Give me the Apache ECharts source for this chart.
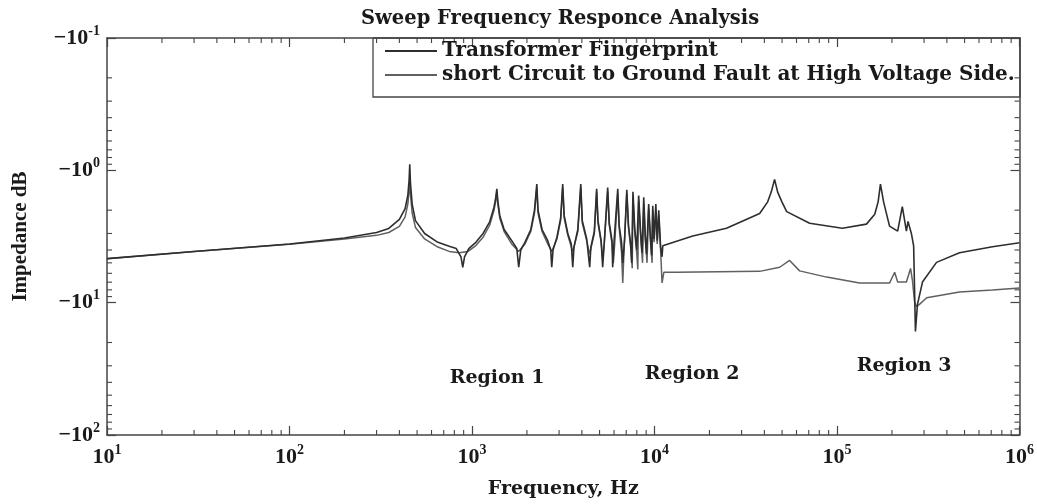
<!DOCTYPE html>
<html><head><meta charset="utf-8">
<script src="https://cdn.jsdelivr.net/npm/echarts@6/dist/echarts.min.js"></script>
<style>html,body{margin:0;padding:0;background:#fff}#c{width:1037px;height:504px}</style>
</head><body><div id="c"></div>
<script>
// ---- data (frequency Hz, |impedance| magnitude; axis shows -10^k) ----
const seriesNames = ['Transformer Fingerprint', 'short Circuit to Ground Fault at High Voltage Side.'];
const xTickExp = [1, 2, 3, 4, 5, 6];
const yTickExp = [-1, 0, 1, 2];
const regionLabels = ['Region 1', 'Region 2', 'Region 3'];

const fingerprint = [
  [10,4.65],[30,4.1],[100,3.6],[200,3.25],[300,2.95],[350,2.75],[400,2.35],[430,1.95],[445,1.55],[452,1.2],[456,0.9],[460,1.25],[470,1.8],[490,2.4],[550,3.0],[650,3.5],[750,3.75],[820,3.9],[870,4.5],[890,5.4],[910,4.5],[960,3.9],
  [1050,3.5],[1150,3.0],[1250,2.45],[1320,1.9],[1350,1.6],[1368,1.38],[1385,1.7],[1420,2.2],[1500,2.8],[1650,3.4],[1760,3.9],[1803,5.4],[1850,4.0],[1950,3.5],[2100,2.8],[2200,2.0],[2265,1.27],[2300,2.0],[2420,2.8],[2600,3.4],[2700,4.0],[2735,5.4],[2780,4.0],[2920,3.2],[3060,2.3],[3140,1.27],[3200,2.2],[3350,3.0],[3500,3.6],[3565,5.4],[3620,3.8],[3800,2.8],[3945,1.27],[4020,2.4],[4250,3.3],[4415,5.4],[4480,3.8],[4680,2.9],[4820,1.38],[4900,2.4],[5100,3.4],[5200,5.4],[5300,3.6],[5540,1.35],[5650,2.5],[5850,3.4],[5900,5.4],[6000,3.5],[6290,1.38],[6400,2.6],[6600,3.5],[6700,5.0],[6850,3.4],[7050,1.4],[7200,2.6],[7400,3.6],[7500,5.0],[7620,1.45],[7800,2.8],[8000,4.0],[8190,1.55],[8400,3.0],[8550,4.2],[8730,1.6],[8900,3.1],[9050,4.3],[9290,1.8],[9500,3.2],[9650,4.4],[9780,1.85],[9950,3.3],[10170,1.8],[10350,3.4],[10550,2.0],[10800,3.8],[11000,4.5],[11100,3.72],
  [16200,3.13],[24800,2.74],[37700,2.12],[41700,1.73],[43600,1.46],[45500,1.17],[47300,1.46],[49900,1.73],[53000,2.05],[70800,2.51],[107000,2.74],[145000,2.55],[161000,2.15],[168000,1.73],[173000,1.27],[180000,1.73],[194000,2.64],[215000,2.88],[228000,1.88],[240000,2.88],[245000,2.43],[256000,3.03],[263000,3.72],[269000,16.5],[276000,10.3],[294000,6.99],[351000,4.96],[469000,4.19],[711000,3.78],[1000000,3.53]
];

const fault = [
  [10,4.65],[30,4.1],[100,3.62],[200,3.3],[300,3.1],[350,2.95],[400,2.65],[430,2.25],[445,1.8],[452,1.45],[456,1.2],[460,1.5],[470,2.1],[490,2.7],[550,3.3],[650,3.8],[750,4.1],[850,4.2],[950,4.1],
  [1050,3.7],[1150,3.2],[1250,2.6],[1320,2.0],[1350,1.7],[1368,1.45],[1385,1.8],[1420,2.3],[1500,2.9],[1650,3.6],[1800,4.1],[1950,3.6],[2100,2.9],[2200,2.1],[2265,1.35],[2300,2.1],[2420,2.9],[2600,3.6],[2735,4.1],[2920,3.3],[3060,2.4],[3140,1.35],[3200,2.3],[3350,3.1],[3500,3.8],[3565,4.1],[3620,3.8],[3800,2.9],[3945,1.35],[4020,2.5],[4250,3.4],[4415,4.3],[4480,3.9],[4680,3.0],[4820,1.45],[4900,2.5],[5100,3.5],[5200,4.6],[5300,3.7],[5540,1.45],[5650,2.6],[5850,3.6],[5950,5.0],[6050,3.6],[6290,1.5],[6400,2.7],[6600,4.2],[6700,7.1],[6800,4.2],[7050,1.5],[7200,2.7],[7400,3.8],[7550,5.5],[7620,1.6],[7800,3.0],[8000,4.3],[8100,5.6],[8190,1.7],[8400,3.2],[8600,5.0],[8730,1.8],[8900,3.3],[9100,5.0],[9290,1.95],[9500,3.4],[9700,5.0],[9780,2.0],[9950,3.5],[10170,2.0],[10350,3.6],[10550,2.2],[10800,4.0],[11000,7.1],[11090,7.2],[11250,5.9],
  [13200,5.9],[37700,5.8],[48500,5.4],[55000,4.8],[62400,5.75],[87700,6.41],[133000,7.11],[194000,7.11],[207000,5.89],[215000,6.99],[240000,6.99],[253000,5.51],[259000,6.8],[266000,9.84],[272000,10.7],[283000,10.3],[310000,9.18],[469000,8.29],[711000,8.02],[1000000,7.75]
];

const xMinor = [2,3,4,5,6,7,8,9];
// ---- build ----
const minorTickData = [];
for (let e = 1; e < 6; e++) xMinor.forEach(m => minorTickData.push([m * Math.pow(10, e), 1, 0]));
for (let e = -1; e < 2; e++) xMinor.forEach(m => minorTickData.push([100, m * Math.pow(10, e), 1]));

const serif = 'Liberation Serif';
const wide = 'DejaVu Serif';
const axisColor = '#444';

function xLab(v) { return '{b|10}{s|' + Math.round(Math.log10(v)) + '}'; }
function yLab(v) { return '{b|\u221210}{s|' + Math.round(Math.log10(v)) + '}'; }
const rich = {
  b: { fontFamily: serif, fontWeight: 'bold', fontSize: 22, color: '#1a1a1a' },
  s: { fontFamily: serif, fontWeight: 'bold', fontSize: 14, color: '#1a1a1a', padding: [0, 0, 14, 0] }
};

const chart = echarts.init(document.getElementById('c'), null, { renderer: 'canvas' });
const baseX = {
  type: 'log', logBase: 10, min: 10, max: 1e6,
  axisLine: { show: true, lineStyle: { color: axisColor, width: 1.5 } },
  axisTick: { show: true, inside: true, length: 9, lineStyle: { color: axisColor, width: 1.2 } },
  splitLine: { show: false }, minorTick: { show: false }
};
const baseY = {
  type: 'log', logBase: 10, min: 0.1, max: 100, inverse: true,
  axisLine: { show: true, lineStyle: { color: axisColor, width: 1.5 } },
  axisTick: { show: true, inside: true, length: 9, lineStyle: { color: axisColor, width: 1.2 } },
  splitLine: { show: false }
};

chart.setOption({
  animation: false,
  backgroundColor: '#fff',
  title: {
    text: 'Sweep Frequency Responce Analysis', left: 356, top: 4,
    textStyle: { fontFamily: wide, fontWeight: 'bold', fontSize: 19.5, color: '#1a1a1a' }
  },
  grid: { left: 107, right: 17, top: 38, bottom: 61 },
  legend: {
    data: seriesNames, left: 384, top: 41, orient: 'vertical', itemWidth: 52, itemHeight: 14, itemGap: 4,
    itemStyle: { opacity: 0 },
    textStyle: { fontFamily: wide, fontWeight: 'bold', fontSize: 20, color: '#1a1a1a' },
    padding: 0
  },
  graphic: [
    { type: 'rect', shape: { x: 373, y: 38, width: 647, height: 59 }, style: { fill: 'none', stroke: axisColor, lineWidth: 1.3 }, z: 100 },
    { type: 'text', x: 497, y: 378, style: { text: regionLabels[0], align: 'center', verticalAlign: 'middle', font: 'bold 19px "DejaVu Serif"', fill: '#1a1a1a' } },
    { type: 'text', x: 692, y: 374, style: { text: regionLabels[1], align: 'center', verticalAlign: 'middle', font: 'bold 19px "DejaVu Serif"', fill: '#1a1a1a' } },
    { type: 'text', x: 904, y: 366, style: { text: regionLabels[2], align: 'center', verticalAlign: 'middle', font: 'bold 19px "DejaVu Serif"', fill: '#1a1a1a' } }
  ],
  xAxis: [
    Object.assign({}, baseX, {
      position: 'bottom',
      name: 'Frequency, Hz', nameLocation: 'middle', nameGap: 45,
      nameTextStyle: { fontFamily: wide, fontWeight: 'bold', fontSize: 19, color: '#1a1a1a' },
      axisLabel: { formatter: xLab, rich: rich, margin: 8 }
    }),
    Object.assign({}, baseX, { position: 'top', axisLabel: { show: false } })
  ],
  yAxis: [
    Object.assign({}, baseY, {
      position: 'left',
      name: 'Impedance dB', nameLocation: 'middle', nameGap: 76, nameRotate: 90,
      nameTextStyle: { fontFamily: serif, fontWeight: 'bold', fontSize: 21, color: '#1a1a1a' },
      axisLabel: { formatter: yLab, rich: rich, margin: 7 }
    }),
    Object.assign({}, baseY, { position: 'right', axisLabel: { show: false } })
  ],
  series: [
    {
      name: seriesNames[1], type: 'line', data: fault, symbol: 'none', xAxisIndex: 0, yAxisIndex: 0,
      lineStyle: { color: '#606060', width: 1.5 }, itemStyle: { color: '#606060' }, z: 2
    },
    {
      name: seriesNames[0], type: 'line', data: fingerprint, symbol: 'none', xAxisIndex: 0, yAxisIndex: 0,
      lineStyle: { color: '#2e2e2e', width: 1.6 }, itemStyle: { color: '#2e2e2e' }, z: 3
    },
    {
      type: 'custom', data: minorTickData, xAxisIndex: 0, yAxisIndex: 0, silent: true, clip: false,
      encode: { x: 0, y: 1 },
      renderItem: function (params, api) {
        const kind = api.value(2);
        const st = { stroke: axisColor, lineWidth: 1.1 };
        if (kind === 0) {
          const x = api.value(0);
          const b = api.coord([x, 100]), t = api.coord([x, 0.1]);
          return { type: 'group', children: [
            { type: 'line', shape: { x1: b[0], y1: b[1], x2: b[0], y2: b[1] - 5 }, style: st },
            { type: 'line', shape: { x1: t[0], y1: t[1], x2: t[0], y2: t[1] + 5 }, style: st }
          ] };
        }
        const y = api.value(1);
        const l = api.coord([10, y]), r = api.coord([1e6, y]);
        return { type: 'group', children: [
          { type: 'line', shape: { x1: l[0], y1: l[1], x2: l[0] + 5, y2: l[1] }, style: st },
          { type: 'line', shape: { x1: r[0], y1: r[1], x2: r[0] - 5, y2: r[1] }, style: st }
        ] };
      }
    }
  ]
});
</script></body></html>
